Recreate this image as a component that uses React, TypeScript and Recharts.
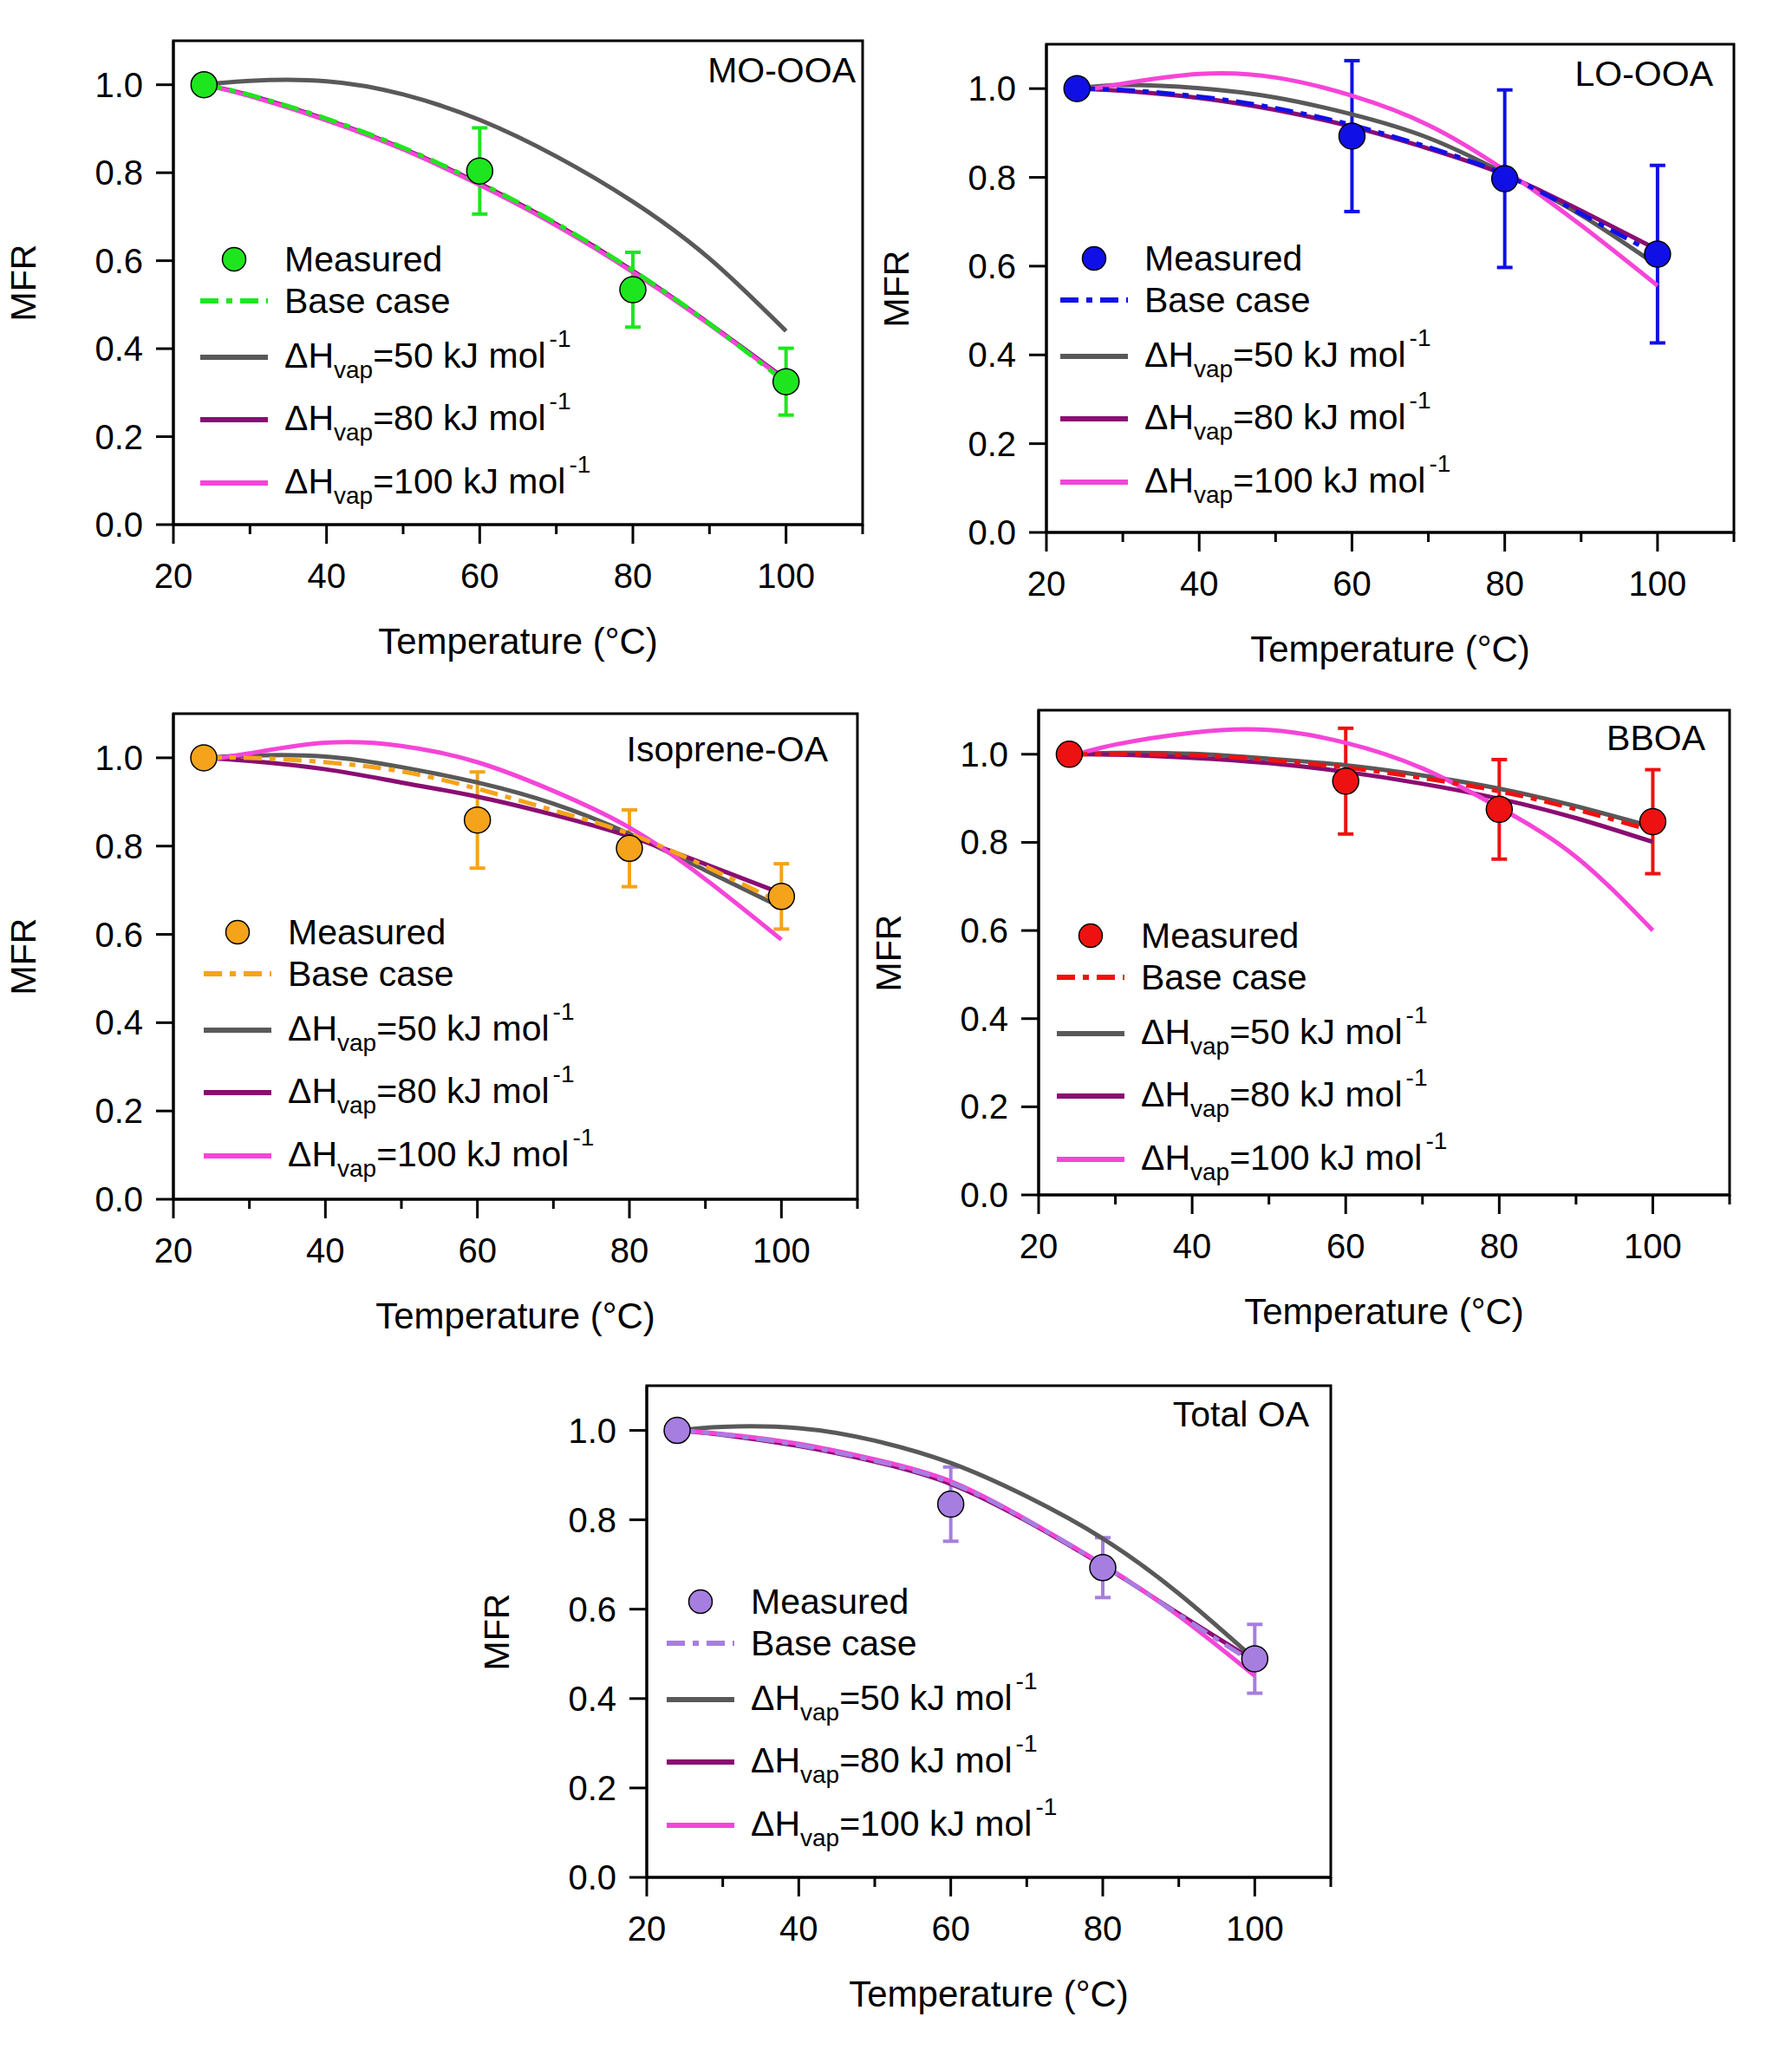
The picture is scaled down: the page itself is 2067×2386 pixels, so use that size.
import React from "react";
import {
  ComposedChart,
  Line,
  Scatter,
  ErrorBar,
  XAxis,
  YAxis,
  ReferenceArea,
  Legend,
} from "recharts";

const FONT = '"Liberation Sans", Arial, sans-serif';

// shared axes
const curveTemps = [24, 30, 40, 50, 60, 70, 80, 90, 100];
const measuredTemps = [24, 60, 80, 100];
const xTicks = [20, 30, 40, 50, 60, 70, 80, 90, 100, 110];
const yTicks = [0, 0.2, 0.4, 0.6, 0.8, 1.0];

// MO-OOA
const moMeasured = [1.0, 0.804, 0.534, 0.325];
const moErr = [0, 0.098, 0.085, 0.076];
const moBase = [1.0, 0.977, 0.923, 0.857, 0.777, 0.685, 0.578, 0.457, 0.322];
const mo50 = [1.0, 1.009, 1.008, 0.978, 0.92, 0.837, 0.734, 0.605, 0.44];
const mo80 = [1.0, 0.976, 0.921, 0.855, 0.775, 0.683, 0.577, 0.457, 0.33];
const mo100 = [1.0, 0.974, 0.919, 0.853, 0.772, 0.68, 0.574, 0.455, 0.327];

// LO-OOA
const loMeasured = [1.0, 0.893, 0.797, 0.627];
const loErr = [0, 0.17, 0.2, 0.2];
const loBase = [1.0, 0.997, 0.982, 0.956, 0.918, 0.868, 0.806, 0.718, 0.625];
const lo50 = [1.0, 1.008, 1.001, 0.98, 0.942, 0.889, 0.809, 0.715, 0.601];
const lo80 = [1.0, 0.995, 0.979, 0.952, 0.914, 0.865, 0.806, 0.725, 0.637];
const lo100 = [0.994, 1.011, 1.033, 1.025, 0.984, 0.918, 0.816, 0.692, 0.556];

// Isoprene-OA
const isoMeasured = [1.0, 0.859, 0.795, 0.686];
const isoErr = [0, 0.109, 0.087, 0.074];
const isoBase = [1.0, 1.0, 0.99, 0.969, 0.93, 0.881, 0.828, 0.754, 0.671];
const iso50 = [1.0, 1.005, 1.003, 0.979, 0.944, 0.896, 0.828, 0.745, 0.661];
const iso80 = [1.0, 0.993, 0.974, 0.944, 0.912, 0.871, 0.822, 0.759, 0.693];
const iso100 = [0.995, 1.01, 1.034, 1.027, 0.99, 0.925, 0.842, 0.725, 0.588];

// BBOA
const bbMeasured = [1.0, 0.939, 0.875, 0.847];
const bbErr = [0, 0.12, 0.113, 0.118];
const bbBase = [1.0, 1.0, 0.998, 0.987, 0.97, 0.946, 0.916, 0.875, 0.826];
const bb50 = [1.0, 1.003, 1.001, 0.99, 0.975, 0.952, 0.922, 0.882, 0.835];
const bb80 = [1.0, 0.999, 0.992, 0.98, 0.96, 0.933, 0.899, 0.855, 0.801];
const bb100 = [0.995, 1.022, 1.049, 1.055, 1.026, 0.968, 0.879, 0.767, 0.6];

// Total OA
const toMeasured = [1.0, 0.835, 0.693, 0.489];
const toErr = [0, 0.083, 0.067, 0.077];
const toBase = [1.0, 0.991, 0.967, 0.932, 0.883, 0.799, 0.699, 0.588, 0.478];
const to50 = [1.0, 1.008, 1.005, 0.977, 0.927, 0.852, 0.758, 0.635, 0.488];
const to80 = [1.0, 0.99, 0.965, 0.93, 0.88, 0.797, 0.698, 0.59, 0.484];
const to100 = [1.0, 0.992, 0.97, 0.935, 0.886, 0.8, 0.7, 0.585, 0.451];

const GRAY = "#595959";
const PURPLE = "#8a0d72";
const PINK = "#f545d8";

const panels = [
  {
    name: "MO-OOA", color: "#1ee61e",
    measured: moMeasured, err: moErr, base: moBase, h50: mo50, h80: mo80, h100: mo100,
    plot: { left: 200, top: 47, w: 795, h: 558 }, legend: { left: 31, top: 252 },
    labelRight: 8, labelTop: 34,
  },
  {
    name: "LO-OOA", color: "#1010e6",
    measured: loMeasured, err: loErr, base: loBase, h50: lo50, h80: lo80, h100: lo100,
    plot: { left: 1207, top: 51, w: 793, h: 563 }, legend: { left: 16, top: 247 },
    labelRight: 24, labelTop: 34,
  },
  {
    name: "Isoprene-OA", color: "#f5a31a",
    measured: isoMeasured, err: isoErr, base: isoBase, h50: iso50, h80: iso80, h100: iso100,
    plot: { left: 200, top: 823, w: 789, h: 560 }, legend: { left: 35, top: 252 },
    labelRight: 34, labelTop: 41,
  },
  {
    name: "BBOA", color: "#ee1111",
    measured: bbMeasured, err: bbErr, base: bbBase, h50: bb50, h80: bb80, h100: bb100,
    plot: { left: 1198, top: 819, w: 797, h: 559 }, legend: { left: 21, top: 260 },
    labelRight: 28, labelTop: 32,
  },
  {
    name: "Total OA", color: "#a67ee0",
    measured: toMeasured, err: toErr, base: toBase, h50: to50, h80: to80, h100: to100,
    plot: { left: 746, top: 1598, w: 789, h: 567 }, legend: { left: 23, top: 249 },
    labelRight: 25, labelTop: 33,
  },
];

const YPAD = 190;
const TOPPAD = 20;
const RPAD = 30;
const XPAD = 180;

const XTick = (props: any) => {
  const { x, y, payload } = props;
  const v = payload.value;
  const major = v % 20 === 0 && v <= 100;
  return (
    <g>
      <line x1={x} x2={x} y1={y} y2={y + (major ? 22 : 11)} stroke="#000" strokeWidth={3} />
      {major && (
        <text x={x} y={y + 73} textAnchor="middle" fontSize={40} fontFamily={FONT} fill="#000">
          {v}
        </text>
      )}
    </g>
  );
};

const YTick = (props: any) => {
  const { x, y, payload } = props;
  return (
    <g>
      <line x1={x - 20} x2={x} y1={y} y2={y} stroke="#000" strokeWidth={3} />
      <text x={x - 35} y={y + 14} textAnchor="end" fontSize={40} fontFamily={FONT} fill="#000">
        {Number(payload.value).toFixed(1)}
      </text>
    </g>
  );
};

const Hvap = ({ value }: { value: string }) => (
  <span>
    ΔH
    <span style={{ fontSize: 28, position: "relative", top: 12 }}>vap</span>
    ={value} kJ mol
    <span style={{ fontSize: 28, position: "relative", top: -24, marginLeft: 4 }}>-1</span>
  </span>
);

const rowOffsets = [0, 48, 113, 185, 258];

function LegendBox({ color }: { color: string }) {
  const items = [
    { kind: "dot", stroke: color, text: <span>Measured</span> },
    { kind: "dash", stroke: color, text: <span>Base case</span> },
    { kind: "line", stroke: GRAY, text: <Hvap value="50" /> },
    { kind: "line", stroke: PURPLE, text: <Hvap value="80" /> },
    { kind: "line", stroke: PINK, text: <Hvap value="100" /> },
  ];
  return (
    <div style={{ position: "relative", width: 620, height: 320, fontFamily: FONT, fontSize: 41, color: "#000" }}>
      {items.map((it, i) => (
        <div
          key={i}
          style={{
            position: "absolute",
            top: rowOffsets[i],
            left: 0,
            height: 50,
            display: "flex",
            alignItems: "center",
            whiteSpace: "nowrap",
            lineHeight: "50px",
          }}
        >
          <svg width={78} height={50} style={{ flex: "none" }}>
            {it.kind === "dot" ? (
              <circle cx={39} cy={25} r={13.5} fill={it.stroke} stroke="#000" strokeWidth={1.5} />
            ) : (
              <line
                x1={0}
                x2={78}
                y1={25}
                y2={25}
                stroke={it.stroke}
                strokeWidth={6}
                strokeDasharray={it.kind === "dash" ? "21 9 7 9" : undefined}
              />
            )}
          </svg>
          <span style={{ marginLeft: 19 }}>{it.text}</span>
        </div>
      ))}
    </div>
  );
}

function PanelChart({ p }: { p: (typeof panels)[number] }) {
  const W = p.plot.w + YPAD + RPAD;
  const H = p.plot.h + TOPPAD + XPAD;
  const pts = (vals: number[]) => curveTemps.map((x, i) => ({ x, y: vals[i] }));
  const meas = measuredTemps.map((x, i) => ({ x, y: p.measured[i], err: p.err[i] }));
  const lineProps = {
    dataKey: "y",
    type: "natural" as const,
    strokeWidth: 5,
    dot: false,
    activeDot: false,
    isAnimationActive: false,
  };
  return (
    <div style={{ position: "absolute", left: p.plot.left - YPAD, top: p.plot.top - TOPPAD, width: W, height: H }}>
      <ComposedChart width={W} height={H} margin={{ top: TOPPAD, right: RPAD, left: 0, bottom: 0 }}>
        <XAxis
          type="number"
          dataKey="x"
          domain={[20, 110]}
          ticks={xTicks}
          interval={0}
          allowDataOverflow
          height={XPAD}
          tickSize={0}
          tickMargin={0}
          tickLine={false}
          axisLine={{ stroke: "#000", strokeWidth: 3 }}
          tick={(props: any) => <XTick {...props} />}
        />
        <YAxis
          type="number"
          domain={[0, 1.1]}
          ticks={yTicks}
          interval={0}
          allowDataOverflow
          width={YPAD}
          tickSize={0}
          tickMargin={0}
          tickLine={false}
          axisLine={{ stroke: "#000", strokeWidth: 3 }}
          tick={(props: any) => <YTick {...props} />}
        />
        <ReferenceArea
          x1={20}
          x2={110}
          y1={0}
          y2={1.1}
          fill="none"
          fillOpacity={0}
          stroke="#000"
          strokeWidth={3}
          ifOverflow="visible"
        />
        <Scatter
          data={meas}
          dataKey="y"
          fill={p.color}
          isAnimationActive={false}
          shape={(s: any) => (
            <circle cx={s.cx} cy={s.cy} r={15} fill={p.color} stroke="#000" strokeWidth={1.5} />
          )}
        >
          <ErrorBar dataKey="err" direction="y" width={9} strokeWidth={4} stroke={p.color} isAnimationActive={false} />
        </Scatter>
        <Line data={pts(p.h50)} stroke={GRAY} {...lineProps} />
        <Line data={pts(p.h80)} stroke={PURPLE} {...lineProps} />
        <Line data={pts(p.h100)} stroke={PINK} {...lineProps} />
        <Line data={pts(p.base)} stroke={p.color} strokeDasharray="21 9 7 9" {...lineProps} />
        <Legend
          layout="vertical"
          align="center"
          verticalAlign="middle"
          wrapperStyle={{ left: YPAD + p.legend.left, top: TOPPAD + p.legend.top - 25, width: 620, height: 320 }}
          content={() => <LegendBox color={p.color} />}
        />
      </ComposedChart>
      <div
        style={{
          position: "absolute",
          right: RPAD + p.labelRight,
          top: TOPPAD + p.labelTop - 25,
          lineHeight: "50px",
          fontFamily: FONT,
          fontSize: 41,
          whiteSpace: "nowrap",
        }}
      >
        {p.name}
      </div>
      <div
        style={{
          position: "absolute",
          left: YPAD - 173 - 100,
          top: TOPPAD + p.plot.h / 2 - 25,
          width: 200,
          height: 50,
          lineHeight: "50px",
          textAlign: "center",
          fontFamily: FONT,
          fontSize: 41,
          transform: "rotate(-90deg)",
        }}
      >
        MFR
      </div>
      <div
        style={{
          position: "absolute",
          left: YPAD,
          width: p.plot.w,
          top: TOPPAD + p.plot.h + 135 - 25,
          height: 50,
          lineHeight: "50px",
          textAlign: "center",
          fontFamily: FONT,
          fontSize: 42,
          whiteSpace: "nowrap",
        }}
      >
        Temperature (°C)
      </div>
    </div>
  );
}

export default function App() {
  return (
    <div style={{ position: "absolute", left: 0, top: 0, width: 2067, height: 2386, background: "#fff" }}>
      {panels.map((p) => (
        <PanelChart key={p.name} p={p} />
      ))}
    </div>
  );
}
